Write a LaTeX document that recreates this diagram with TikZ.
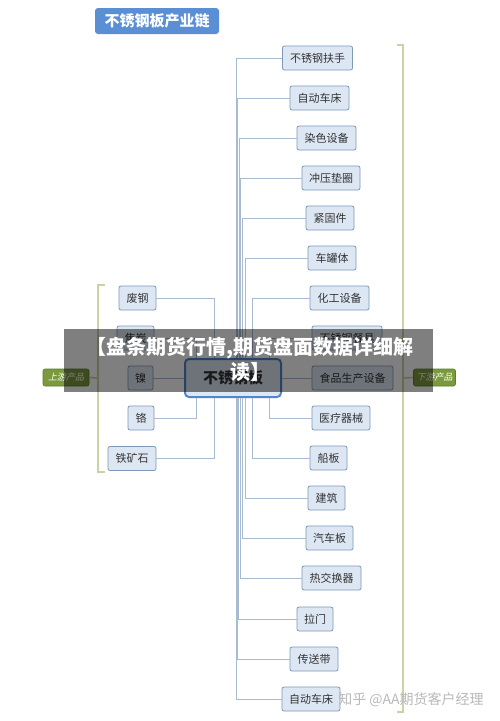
\documentclass[tikz,border=0pt]{standalone}
\usepackage{fontspec}
\newfontfamily\cjk{Noto Sans CJK SC}
\newfontfamily\cjkit[FakeSlant=0.2]{Noto Sans CJK SC}
\definecolor{boxfill}{HTML}{DDE7F4}
\definecolor{boxborder}{HTML}{7F98B8}
\definecolor{linecol}{HTML}{A9BBD0}
\definecolor{txtgray}{HTML}{333333}
\definecolor{titleblue}{HTML}{5A8FD5}
\definecolor{centerblue}{HTML}{4F86CC}
\definecolor{brack}{HTML}{C9D4A5}
\definecolor{olive}{HTML}{7B9A3E}
\definecolor{olivedark}{HTML}{5F7D2A}
\tikzset{
  leaf/.style={draw=boxborder, line width=0.8pt, fill=boxfill, rounded corners=2pt,
    font=\cjk\fontsize{11}{13}\selectfont, text=txtgray, minimum height=24pt, inner sep=0pt},
  conn/.style={draw=linecol, line width=0.8pt},
  brk/.style={draw=brack, line width=1.6pt},
  tag/.style={draw=olivedark, line width=0.6pt, fill=olive, rounded corners=2pt,
    font=\cjkit\fontsize{9}{11}\selectfont, text=white, minimum height=17pt, inner sep=0pt}
}
\begin{document}
\begin{tikzpicture}[x=1pt,y=-1pt]
\useasboundingbox[fill=white] (0,0) rectangle (500,721);

% title
\node[fill=titleblue, rounded corners=3pt, text=white, minimum width=124pt, minimum height=26pt,
  inner sep=0pt, font=\cjk\bfseries\fontsize{15}{17}\selectfont] (title) at (157,21) {不锈钢板产业链};

% centre
\node[draw=centerblue, line width=2pt, fill=boxfill, rounded corners=4pt, minimum width=96pt,
  minimum height=38pt, inner sep=0pt, text=txtgray, font=\cjk\bfseries\fontsize{15}{17}\selectfont] (c) at (233,378) {不锈钢板};

% right leaves
\node[leaf, minimum width=70pt] (r1) at (317.5,58) {不锈钢扶手};
\node[leaf, minimum width=59pt] (r2) at (319.5,98) {自动车床};
\node[leaf, minimum width=59pt] (r3) at (326.5,138) {染色设备};
\node[leaf, minimum width=58pt] (r4) at (331,178) {冲压垫圈};
\node[leaf, minimum width=48pt] (r5) at (330,218) {紧固件};
\node[leaf, minimum width=48pt] (r6) at (332,258) {车罐体};
\node[leaf, minimum width=59pt] (r7) at (339.5,298) {化工设备};
\node[leaf, minimum width=70pt] (r8) at (347,338) {不锈钢餐具};
\node[leaf, minimum width=81pt] (r9) at (352.5,378) {食品生产设备};
\node[leaf, minimum width=58pt] (r10) at (341,418) {医疗器械};
\node[leaf, minimum width=37pt] (r11) at (328.5,458) {船板};
\node[leaf, minimum width=37pt] (r12) at (326.5,498) {建筑};
\node[leaf, minimum width=47pt] (r13) at (329.5,538) {汽车板};
\node[leaf, minimum width=59pt] (r14) at (331.5,578) {热交换器};
\node[leaf, minimum width=36pt] (r15) at (315,619) {拉门};
\node[leaf, minimum width=48pt] (r16) at (314,659) {传送带};
\node[leaf, minimum width=58pt] (r17) at (311,699) {自动车床};

% left leaves
\node[leaf, minimum width=37pt] (l1) at (137.5,298) {废钢};
\node[leaf, minimum width=37pt] (l2) at (135.5,338) {焦炭};
\node[leaf, minimum width=25pt] (l3) at (140.5,378) {镍};
\node[leaf, minimum width=26pt] (l4) at (141,418) {铬};
\node[leaf, minimum width=48pt] (l5) at (132,458.5) {铁矿石};

% right connectors
\draw[conn] ([xshift=3pt]c.north) |- (r1.west);
\draw[conn] ([xshift=4.5pt]c.north) |- (r2.west);
\draw[conn] ([xshift=6pt]c.north) |- (r3.west);
\draw[conn] ([xshift=7.5pt]c.north) |- (r4.west);
\draw[conn] ([xshift=9pt]c.north) |- (r5.west);
\draw[conn] ([xshift=12pt]c.north) |- (r6.west);
\draw[conn] ([xshift=19pt]c.north) |- (r7.west);
\draw[conn] ([xshift=36pt]c.north) |- (r8.west);
\draw[conn] (c.east) -- (r9.west);
\draw[conn] ([xshift=36pt]c.south) |- (r10.west);
\draw[conn] ([xshift=19pt]c.south) |- (r11.west);
\draw[conn] ([xshift=12pt]c.south) |- (r12.west);
\draw[conn] ([xshift=9pt]c.south) |- (r13.west);
\draw[conn] ([xshift=7pt]c.south) |- (r14.west);
\draw[conn] ([xshift=5.5pt]c.south) |- (r15.west);
\draw[conn] ([xshift=4pt]c.south) |- (r16.west);
\draw[conn] ([xshift=3pt]c.south) |- (r17.west);

% left connectors
\draw[conn] (l1.east) -| ([xshift=-19pt]c.north);
\draw[conn] (l2.east) -| ([xshift=-37pt]c.north);
\draw[conn] (l3.east) -- (c.west);
\draw[conn] (l4.east) -| ([xshift=-37pt]c.south);
\draw[conn] (l5.east) -| ([xshift=-19pt]c.south);

% brackets and tags
\node[tag, minimum width=46pt] (up) at (66,377.5) {上游产品};
\node[tag, minimum width=42pt] (down) at (434.5,377.5) {下游产品};
\coordinate (lb) at (98,378);
\coordinate (rb) at (403,378);
\draw[brk] (105,285) -- (98,285) -- (98,472) -- (105,472);
\draw[brk] (397,45) -- (403,45) -- (403,712) -- (397,712);
\draw[brk] (up.east) -- (lb);
\draw[brk] (rb) -- (down.west);

% overlay banner
\fill[black, opacity=0.5] (64,329) rectangle (433,392);
\node[text=white, inner sep=0pt, font=\cjk\bfseries\fontsize{20}{22}\selectfont] (ban1) at (250,348) {【盘条期货行情,期货盘面数据详细解};
\node[text=white, inner sep=0pt, font=\cjk\bfseries\fontsize{20}{22}\selectfont] (ban2) at (250,372) {读】};

% watermark
\node[text=gray!55, inner sep=0pt, font=\cjk\fontsize{14}{16}\selectfont] (wm) at (411,700) {知乎 @AA期货客户经理};
\end{tikzpicture}
\end{document}
